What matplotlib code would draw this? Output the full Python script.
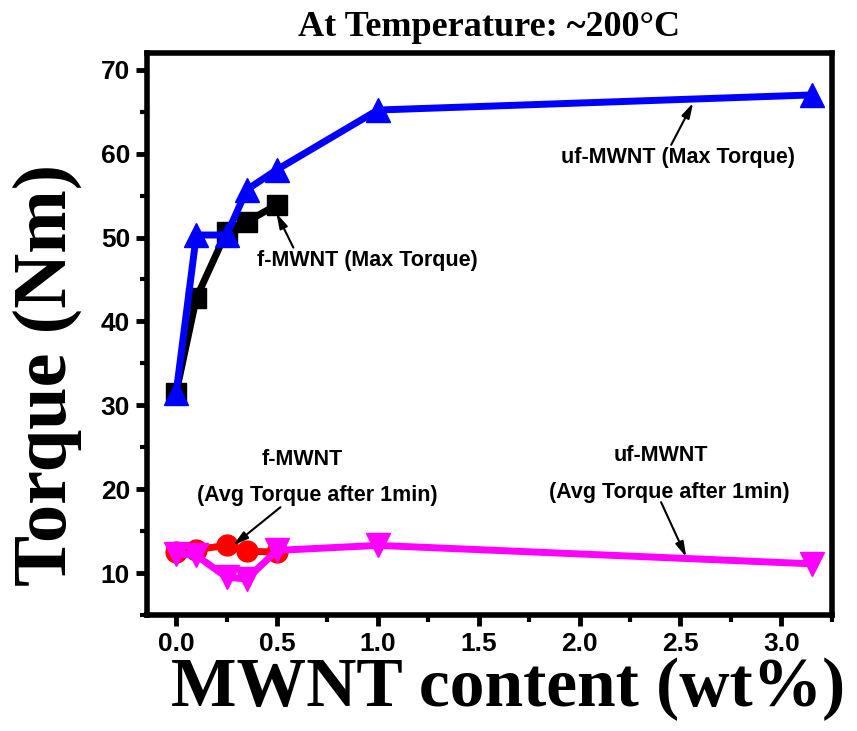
import matplotlib
matplotlib.use("Agg")
import matplotlib.pyplot as plt
from matplotlib.ticker import MultipleLocator

# MWNT loading (wt%)
x_f = [0.0, 0.1, 0.25, 0.35, 0.5]
x_uf = [0.0, 0.1, 0.25, 0.35, 0.5, 1.0, 3.15]

# Torque values (Nm)
f_max = [31.5, 42.8, 50.7, 51.9, 53.9]
uf_max = [31.5, 50.3, 50.3, 55.7, 58.1, 65.2, 67.0]
f_avg = [12.5, 12.8, 13.3, 12.6, 12.5]
uf_avg = [12.3, 12.1, 9.5, 9.3, 12.7, 13.3, 11.1]

fig = plt.figure(figsize=(8.57, 7.31), dpi=100)
ax = fig.add_axes([0.1712, 0.1587, 0.7993, 0.7688])

lw = 5
ax.plot(x_f, f_max, color="black", lw=lw, marker="s", ms=14, zorder=3)
ax.plot(x_uf, uf_max, color="#0000ff", lw=lw, marker="^", ms=17, zorder=4)
ax.plot(x_f, f_avg, color="#ff0000", lw=lw, marker="o", ms=15, zorder=3)
ax.plot(x_uf, uf_avg, color="#ff00ff", lw=lw, marker="v", ms=17, zorder=4)

ax.set_xlim(-0.146, 3.25)
ax.set_ylim(5, 72)
ax.xaxis.set_minor_locator(MultipleLocator(0.25))
ax.yaxis.set_minor_locator(MultipleLocator(5))
ax.set_xticks([0.0, 0.5, 1.0, 1.5, 2.0, 2.5, 3.0])
ax.set_xticklabels(["0.0", "0.5", "1.0", "1.5", "2.0", "2.5", "3.0"])
ax.set_yticks([10, 20, 30, 40, 50, 60, 70])

for s in ax.spines.values():
    s.set_linewidth(4)
ax.tick_params(which="major", direction="out", length=8, width=3.5,
               labelsize=19, pad=4)
ax.tick_params(which="minor", direction="out", length=5, width=3)
for lab in ax.get_xticklabels() + ax.get_yticklabels():
    lab.set_fontfamily("Liberation Sans")
    lab.set_fontweight("bold")

serif = "Liberation Serif"
ax.set_xlabel("MWNT content (wt%)", fontsize=50, fontfamily=serif,
              fontweight="bold", va="center", ha="center")
ax.xaxis.set_label_coords(0.527, -0.132)
ax.set_ylabel("Torque (Nm)", fontsize=55, fontfamily=serif,
              fontweight="bold", va="center", ha="center")
ax.yaxis.set_label_coords(-0.1455, 0.427)
ax.set_title("At Temperature: ~200\u00b0C", fontsize=26, fontfamily=serif,
             fontweight="bold", pad=12)

afont = dict(fontsize=15.5, fontfamily="Liberation Sans", fontweight="bold",
             ha="center", va="center")
arrow = dict(arrowstyle="-|>,head_length=0.9,head_width=0.25", color="black",
             lw=1.5, shrinkA=0, shrinkB=0)

ax.text(0.947, 47.3, "f-MWNT (Max Torque)", **afont)
ax.annotate("", xy=(0.497, 52.9), xytext=(0.581, 48.8), arrowprops=arrow)

ax.text(2.489, 59.5, "uf-MWNT (Max Torque)", **afont)
ax.annotate("", xy=(2.563, 66.06), xytext=(2.454, 61.05), arrowprops=arrow)

ax.text(0.626, 23.5, "f-MWNT", **afont)
ax.text(0.70, 19.2, "(Avg Torque after 1min)", **afont)
ax.annotate("", xy=(0.283, 13.3), xytext=(0.517, 17.85), arrowprops=arrow)

ax.text(2.404, 24.05, "uf-MWNT", **afont)
ax.text(2.444, 19.6, "(Avg Torque after 1min)", **afont)
ax.annotate("", xy=(2.529, 11.9), xytext=(2.404, 18.45), arrowprops=arrow)

fig.savefig("out.png", dpi=100)
